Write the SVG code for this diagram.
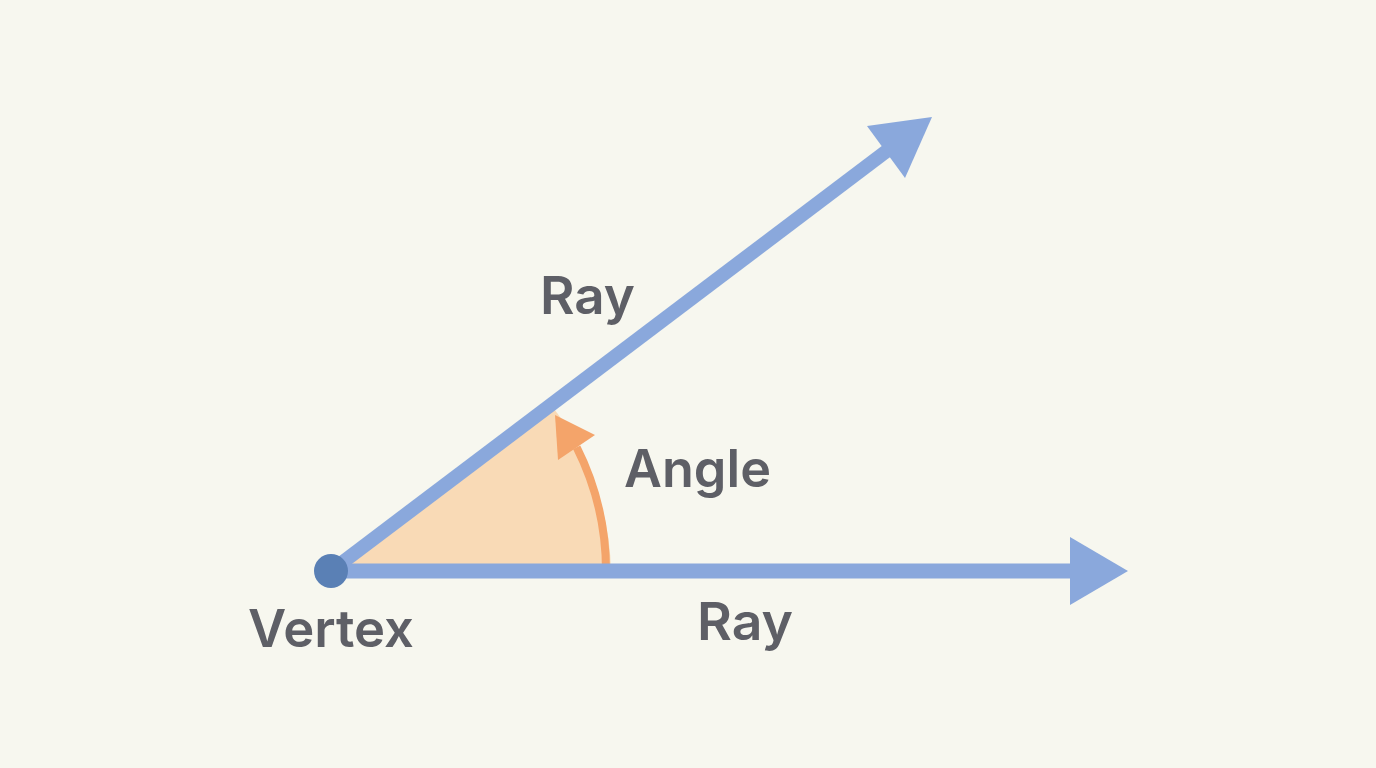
<svg xmlns="http://www.w3.org/2000/svg" width="1376" height="768" viewBox="0 0 1376 768">
  <style>
    .lbl { font-family: Inter, "Open Sans", "Liberation Sans", sans-serif; font-weight: 600; font-size: 52px; fill: #5E5F66; }
    .ray { stroke: #8AA8DC; stroke-width: 14; fill: none; }
    .head { fill: #8AA8DC; }
  </style>
  <rect width="1376" height="768" fill="#F7F7EF"/>
  <g id="angle">
    <path d="M331,571 L551,405 A276,276 0 0 1 611,571 Z" fill="#F9DAB6"/>
    <path d="M606,571 A275,275 0 0 0 576.7,447.4" fill="none" stroke="#F4A46A" stroke-width="8"/>
    <polygon points="555,415 595,435 558,460" fill="#F4A46A"/>
    <text class="lbl" x="624" y="487" textLength="147" lengthAdjust="spacingAndGlyphs">Angle</text>
  </g>
  <g id="connectors">
    <g id="ray-upper">
      <line class="ray" x1="331" y1="571" x2="888" y2="150"/>
      <polygon class="head" points="932,117 867,126 905,178"/>
    </g>
    <g id="ray-lower">
      <line class="ray" x1="331" y1="571" x2="1072" y2="571" style="stroke-width:15"/>
      <polygon class="head" points="1070,537 1128,571 1070,605"/>
    </g>
  </g>
  <g id="label-ray-upper">
    <text class="lbl" x="540" y="314" textLength="95" lengthAdjust="spacingAndGlyphs">Ray</text>
  </g>
  <g id="label-ray-lower">
    <text class="lbl" x="697" y="640" textLength="96" lengthAdjust="spacingAndGlyphs">Ray</text>
  </g>
  <g id="vertex">
    <circle cx="331" cy="571" r="17" fill="#5A80B5"/>
    <text class="lbl" x="248" y="647" textLength="166" lengthAdjust="spacingAndGlyphs">Vertex</text>
  </g>
</svg>
